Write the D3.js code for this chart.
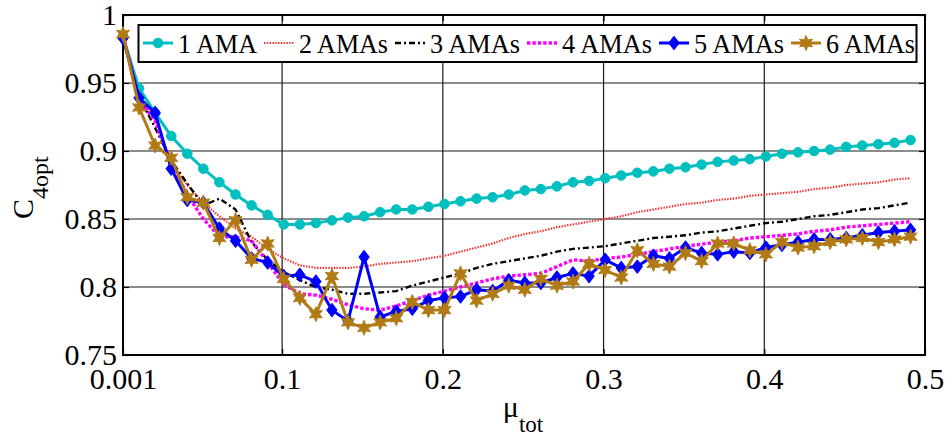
<!DOCTYPE html>
<html>
<head>
<meta charset="utf-8">
<script src="https://cdn.jsdelivr.net/npm/d3@7"></script>
<style>
  html, body { margin: 0; padding: 0; background: #fff; }
  svg { display: block; }
  text { font-family: "Liberation Serif", "Times New Roman", Times, serif; fill: #000; }
</style>
</head>
<body>
<div id="chart"></div>
<script>
// ---------------- data ----------------
const muTot = [0.001, 0.011, 0.021, 0.031, 0.041, 0.051, 0.061, 0.071, 0.081, 0.091,
  0.101, 0.111, 0.121, 0.131, 0.141, 0.151, 0.161, 0.171, 0.181, 0.191,
  0.201, 0.211, 0.221, 0.231, 0.241, 0.251, 0.261, 0.271, 0.281, 0.291,
  0.301, 0.311, 0.321, 0.331, 0.341, 0.351, 0.361, 0.371, 0.381, 0.391,
  0.401, 0.411, 0.421, 0.431, 0.441, 0.451, 0.461, 0.471, 0.481, 0.491];

const ama1 = [0.984, 0.946, 0.928, 0.911, 0.898, 0.887, 0.877, 0.868, 0.860, 0.853,
  0.846, 0.846, 0.847, 0.849, 0.851, 0.852, 0.855, 0.857, 0.857, 0.859,
  0.861, 0.863, 0.865, 0.866, 0.868, 0.871, 0.872, 0.874, 0.877, 0.878,
  0.880, 0.882, 0.884, 0.885, 0.887, 0.888, 0.890, 0.892, 0.893, 0.894,
  0.896, 0.898, 0.899, 0.900, 0.901, 0.903, 0.904, 0.905, 0.906, 0.908];

const ama2 = [0.985, 0.940, 0.924, 0.891, 0.875, 0.862, 0.852, 0.843, 0.837, 0.828,
  0.821, 0.816, 0.814, 0.814, 0.814, 0.815, 0.817, 0.818, 0.819, 0.821,
  0.823, 0.826, 0.829, 0.832, 0.836, 0.839, 0.841, 0.844, 0.846, 0.848,
  0.850, 0.852, 0.855, 0.857, 0.859, 0.861, 0.862, 0.864, 0.865, 0.867,
  0.868, 0.869, 0.870, 0.872, 0.873, 0.875, 0.876, 0.877, 0.879, 0.880];

const ama3 = [0.985, 0.940, 0.917, 0.893, 0.876, 0.860, 0.865, 0.857, 0.833, 0.820,
  0.811, 0.805, 0.800, 0.798, 0.795, 0.795, 0.796, 0.797, 0.801, 0.804,
  0.807, 0.810, 0.814, 0.817, 0.819, 0.821, 0.823, 0.826, 0.828, 0.829,
  0.830, 0.832, 0.834, 0.836, 0.837, 0.838, 0.840, 0.841, 0.843, 0.845,
  0.847, 0.848, 0.850, 0.852, 0.853, 0.855, 0.857, 0.858, 0.860, 0.862];

const ama4 = [0.985, 0.938, 0.922, 0.890, 0.868, 0.850, 0.837, 0.837, 0.834, 0.818,
  0.802, 0.795, 0.794, 0.791, 0.787, 0.784, 0.783, 0.786, 0.790, 0.794,
  0.797, 0.800, 0.803, 0.806, 0.808, 0.809, 0.810, 0.815, 0.820, 0.819,
  0.821, 0.822, 0.824, 0.826, 0.828, 0.830, 0.8315, 0.833, 0.834, 0.836,
  0.837, 0.838, 0.839, 0.841, 0.842, 0.844, 0.845, 0.846, 0.847, 0.848];

const ama5 = [0.983, 0.939, 0.928, 0.887, 0.864, 0.862, 0.843, 0.834, 0.821, 0.818,
  0.808, 0.809, 0.804, 0.783, 0.775, 0.822, 0.778, 0.782, 0.784, 0.790,
  0.792, 0.793, 0.798, 0.797, 0.805, 0.803, 0.803, 0.807, 0.810, 0.808,
  0.820, 0.814, 0.815, 0.823, 0.821, 0.829, 0.825, 0.824, 0.826, 0.825,
  0.829, 0.831, 0.833, 0.835, 0.835, 0.836, 0.838, 0.840, 0.841, 0.842];

const ama6 = [0.986, 0.932, 0.904, 0.895, 0.866, 0.862, 0.836, 0.849, 0.820, 0.832,
  0.806, 0.792, 0.780, 0.808, 0.774, 0.770, 0.774, 0.777, 0.789, 0.783,
  0.783, 0.810, 0.790, 0.795, 0.801, 0.798, 0.806, 0.801, 0.804, 0.817,
  0.8125, 0.807, 0.827, 0.817, 0.815, 0.825, 0.819, 0.832, 0.832, 0.827,
  0.824, 0.833, 0.829, 0.830, 0.833, 0.835, 0.836, 0.833, 0.835, 0.837];

const seriesNames = ["1 AMA", "2 AMAs", "3 AMAs", "4 AMAs", "5 AMAs", "6 AMAs"];
const xTicks = [0.001, 0.1, 0.2, 0.3, 0.4, 0.5];
const xTickLabels = ["0.001", "0.1", "0.2", "0.3", "0.4", "0.5"];
const yTicks = [0.75, 0.8, 0.85, 0.9, 0.95, 1];
const yTickLabels = ["0.75", "0.8", "0.85", "0.9", "0.95", "1"];

// ---------------- styles ----------------
const FONT = "Liberation Serif";
const styles = [
  { color: "#00bfbf", width: 3,   dash: null,        marker: "circle" },
  { color: "#ff2a2a", width: 2.2, dash: "1.4,1.4",   marker: null },
  { color: "#000000", width: 2.4, dash: "6,3,2,3",   marker: null },
  { color: "#ff00ff", width: 3.4, dash: "3.4,2",     marker: null },
  { color: "#0000ff", width: 3,   dash: null,        marker: "diamond" },
  { color: "#b27a14", width: 3,   dash: null,        marker: "hexagram" }
];
const allSeries = [ama1, ama2, ama3, ama4, ama5, ama6];

// ---------------- layout ----------------
const W = 946, H = 439;
const pLeft = 123, pRight = 925, pTop = 15, pBottom = 355;

const svg = d3.select("#chart").append("svg").attr("width", W).attr("height", H)
  .attr("font-family", FONT);

const x = d3.scaleLinear().domain([0.001, 0.5]).range([pLeft, pRight]);
const y = d3.scaleLinear().domain([0.75, 1]).range([pBottom, pTop]);

// grid
const grid = svg.append("g");
grid.selectAll("line.vg").data(xTicks.slice(1, -1)).join("line")
  .attr("x1", d => x(d)).attr("x2", d => x(d)).attr("y1", pTop).attr("y2", pBottom)
  .attr("stroke", "#1a1a1a").attr("stroke-width", 1.2);
grid.selectAll("line.hg").data(yTicks.slice(1, -1)).join("line")
  .attr("x1", pLeft).attr("x2", pRight).attr("y1", d => y(d)).attr("y2", d => y(d))
  .attr("stroke", "#1a1a1a").attr("stroke-width", 1.2);

// axes
const fmtX = d => xTickLabels[xTicks.indexOf(d)];
const fmtY = d => yTickLabels[yTicks.indexOf(d)];

svg.append("g").attr("transform", `translate(0,${pBottom})`)
  .call(d3.axisBottom(x).tickValues(xTicks).tickFormat(fmtX).tickSize(-6).tickPadding(13));
svg.append("g").attr("transform", `translate(${pLeft},0)`)
  .call(d3.axisLeft(y).tickValues(yTicks).tickFormat(fmtY).tickSize(-6).tickPadding(6));
svg.append("g").attr("transform", `translate(0,${pTop})`)
  .call(d3.axisTop(x).tickValues(xTicks).tickFormat("").tickSize(-6));
svg.append("g").attr("transform", `translate(${pRight},0)`)
  .call(d3.axisRight(y).tickValues(yTicks).tickFormat("").tickSize(-6));

svg.selectAll(".domain").remove();
svg.selectAll("g").attr("font-family", FONT);
svg.selectAll(".tick line").attr("stroke", "#000").attr("stroke-width", 1.2);
svg.selectAll(".tick text").attr("font-size", 30).attr("font-family", FONT).attr("fill", "#000");

// box
svg.append("rect").attr("x", pLeft).attr("y", pTop)
  .attr("width", pRight - pLeft).attr("height", pBottom - pTop)
  .attr("fill", "none").attr("stroke", "#000").attr("stroke-width", 2);

// marker paths
function markerPath(type) {
  if (type === "circle") {
    return d3.symbol().type(d3.symbolCircle).size(Math.PI * 4.8 * 4.8)();
  }
  if (type === "diamond") {
    const a = 5.2, b = 6.8;
    return `M0,${-b}L${a},0L0,${b}L${-a},0Z`;
  }
  if (type === "hexagram") {
    const R = 7.5, r = 3.6;
    let p = "";
    for (let i = 0; i < 12; i++) {
      const ang = -Math.PI / 2 + i * Math.PI / 6;
      const rad = i % 2 === 0 ? R : r;
      p += (i === 0 ? "M" : "L") + (rad * Math.cos(ang)).toFixed(2) + "," + (rad * Math.sin(ang)).toFixed(2);
    }
    return p + "Z";
  }
  return null;
}

// lines
const line = d3.line().x((d, i) => x(muTot[i])).y(d => y(d));
allSeries.forEach((vals, si) => {
  const st = styles[si];
  const g = svg.append("g");
  g.append("path").datum(vals).attr("d", line)
    .attr("fill", "none").attr("stroke", st.color).attr("stroke-width", st.width)
    .attr("stroke-dasharray", st.dash).attr("stroke-linejoin", "round");
  if (st.marker) {
    g.selectAll("path.m").data(vals).join("path").attr("class", "m")
      .attr("transform", (d, i) => `translate(${x(muTot[i])},${y(d)})`)
      .attr("d", markerPath(st.marker))
      .attr("fill", st.color).attr("stroke", st.color).attr("stroke-width", 1);
  }
});

// legend
const legend = svg.append("g");
const lgTop = 25, lgBottom = 62, lgLeft = 138.5, lgRight = 916.5;
legend.append("rect").attr("x", lgLeft).attr("y", lgTop)
  .attr("width", lgRight - lgLeft).attr("height", lgBottom - lgTop)
  .attr("fill", "#fff").attr("stroke", "#000").attr("stroke-width", 2);
const textWidths = [79, 89, 90, 90, 90, 89];
let lx = 143;
const ly = 43;
seriesNames.forEach((name, si) => {
  const st = styles[si];
  legend.append("line").attr("x1", lx).attr("x2", lx + 30).attr("y1", ly).attr("y2", ly)
    .attr("stroke", st.color).attr("stroke-width", st.width).attr("stroke-dasharray", st.dash);
  if (st.marker) {
    legend.append("path").attr("transform", `translate(${lx + 15},${ly})`)
      .attr("d", markerPath(st.marker)).attr("fill", st.color).attr("stroke", st.color);
  }
  legend.append("text").attr("x", lx + 35).attr("y", ly + 10)
    .attr("font-size", 27).attr("textLength", textWidths[si]).attr("lengthAdjust", "spacingAndGlyphs")
    .text(name);
  lx += 35 + textWidths[si] + 7;
});

// axis labels
const xl = svg.append("text").attr("x", 523).attr("y", 417).attr("text-anchor", "middle").attr("font-size", 30);
xl.append("tspan").text("μ");
xl.append("tspan").attr("dy", 15).attr("font-size", 23).text("tot");

const yl = svg.append("text").attr("transform", "translate(33,219) rotate(-90)")
  .attr("text-anchor", "start").attr("font-size", 30);
yl.append("tspan").text("C");
yl.append("tspan").attr("dy", 15).attr("font-size", 24).text("4opt");
</script>
</body>
</html>
